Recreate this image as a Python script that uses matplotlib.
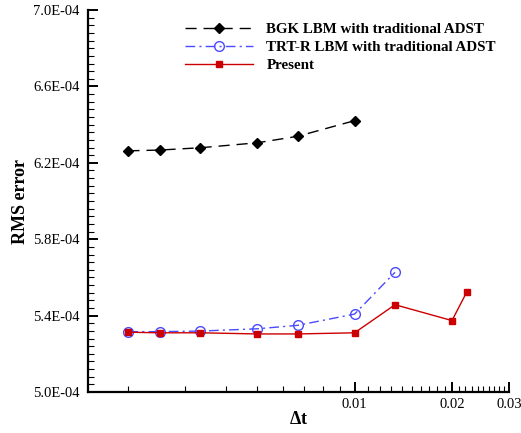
import numpy as np
import matplotlib.pyplot as plt
from matplotlib import rc
from matplotlib.ticker import FixedLocator, FormatStrFormatter, NullFormatter

rc('font', **{'family': 'serif', 'serif': ['Liberation Serif'], 'size': 10})
rc('mathtext', fontset='custom', rm='Liberation Serif', bf='Liberation Serif:bold')

# time steps
dt_bgk = [1/500, 1/400, 1/300, 1/200, 1/150, 1/100]
dt_trt = [1/500, 1/400, 1/300, 1/200, 1/150, 1/100, 1/75]
dt_present = [1/500, 1/400, 1/300, 1/200, 1/150, 1/100, 1/75, 1/50, 1/45]

# RMS errors
rms_bgk = [6.263e-4, 6.267e-4, 6.279e-4, 6.305e-4, 6.339e-4, 6.421e-4]
rms_trt = [5.316e-4, 5.316e-4, 5.319e-4, 5.331e-4, 5.349e-4, 5.408e-4, 5.627e-4]
rms_present = [5.313e-4, 5.310e-4, 5.310e-4, 5.304e-4, 5.304e-4, 5.310e-4, 5.457e-4, 5.374e-4, 5.524e-4]

labels = ['BGK LBM with traditional ADST', 'TRT-R LBM with traditional ADST', 'Present']
xticks = [0.01, 0.02, 0.03]
yticks = [5.0e-4, 5.4e-4, 5.8e-4, 6.2e-4, 6.6e-4, 7.0e-4]

fig = plt.figure(figsize=(5.21, 4.33), dpi=100)
ax1 = fig.add_axes([0.1689, 0.0947, 0.808, 0.882])

ax1.plot(dt_bgk, rms_bgk, c='k', linestyle=(0, (8, 5)), linewidth=1.0,
         marker='D', markersize=5, label=labels[0])
ax1.plot(dt_trt, rms_trt, c='#4a4aff', linestyle=(0, (7, 3, 1.5, 3)), linewidth=1.0,
         marker='o', markersize=7, markerfacecolor='none', markeredgewidth=1.0, label=labels[1])
ax1.plot(dt_present, rms_present, c='#cc0000', linestyle='-', linewidth=1.0,
         marker='s', markersize=5, label=labels[2])

ax1.set_xscale('log')
ax1.set_xlim([0.0015, 0.03])
ax1.set_ylim([5.0e-4, 7.0e-4])

ax1.xaxis.set_major_locator(FixedLocator(xticks))
ax1.xaxis.set_major_formatter(FormatStrFormatter('%g'))
minors = list(np.arange(2, 10) * 1e-3) + list(np.arange(11, 20) * 1e-3) + list(np.arange(21, 30) * 1e-3)
ax1.xaxis.set_minor_locator(FixedLocator(minors))
ax1.xaxis.set_minor_formatter(NullFormatter())

ax1.yaxis.set_major_locator(FixedLocator(yticks))
ymin = [5.0e-4 + k * 0.04e-4 for k in range(51) if k % 10 != 0]
ax1.yaxis.set_minor_locator(FixedLocator(ymin))
ax1.yaxis.set_major_formatter(plt.FuncFormatter(lambda v, p: '%.1E' % v))

ax1.spines['top'].set_visible(False)
ax1.spines['right'].set_visible(False)
ax1.spines['left'].set_linewidth(1.6)
ax1.spines['bottom'].set_linewidth(1.6)

ax1.tick_params(which='major', direction='in', length=7, width=1.4, labelsize=10.5, pad=4)
ax1.tick_params(which='minor', direction='in', length=4, width=0.8)
ax1.tick_params(axis='y', which='major', pad=6)

ax1.set_xlabel(r'$\mathbf{\Delta t}$', size=13, labelpad=0)
ax1.set_ylabel('RMS error', size=13, fontweight='bold', labelpad=3)

leg = ax1.legend(loc='upper left', bbox_to_anchor=(0.21, 0.99), frameon=False, ncol=1,
                 prop={'weight': 'bold', 'size': 10.8}, handlelength=4.5, handletextpad=0.9,
                 labelspacing=0.3, borderaxespad=0.2)

plt.savefig('out.png', dpi=100)
